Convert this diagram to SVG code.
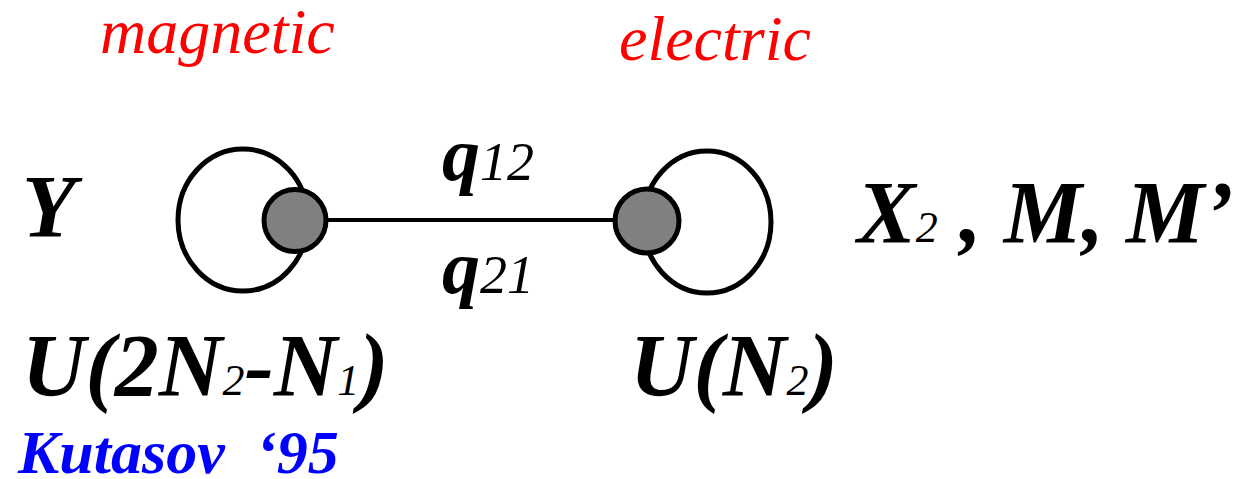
<svg xmlns="http://www.w3.org/2000/svg" width="1240" height="479" viewBox="0 0 1240 479">
<style>
svg text, svg text tspan{font-family:"Liberation Serif",Tinos,"Times New Roman",serif !important;font-style:italic !important;}
.loop{fill:none;stroke:#000;stroke-width:5;}
.node{fill:#808080;stroke:#000;stroke-width:5;}
.edge{stroke:#000;stroke-width:4;fill:none;}
</style>
<rect width="1240" height="479" fill="#fff"/>
<g id="connectors">
<line class="edge" x1="326" y1="220" x2="616" y2="220"/>
</g>
<g id="magnetic-node">
<ellipse class="loop" cx="243" cy="220" rx="65" ry="71"/>
<circle class="node" cx="295" cy="220.5" r="31"/>
</g>
<g id="electric-node">
<ellipse class="loop" cx="707" cy="222" rx="64" ry="71"/>
<circle class="node" cx="647" cy="221" r="32"/>
</g>
<g id="labels">
<text id="lbl-magnetic" x="100" y="53" font-family="Tinos" font-style="italic" font-size="64" fill="#ff0000">magnetic</text>
<text id="lbl-electric" x="619" y="60" font-family="Tinos" font-style="italic" font-size="64" fill="#ff0000">electric</text>
<text id="lbl-y" x="22" y="236" font-family="Tinos" font-style="italic" font-weight="bold" font-size="88">Y</text>
<text id="lbl-q12" x="442" y="180" font-family="Tinos" font-style="italic" font-weight="bold" font-size="76">q<tspan font-weight="normal" font-size="54">12</tspan></text>
<text id="lbl-q21" x="442" y="293" font-family="Tinos" font-style="italic" font-weight="bold" font-size="76">q<tspan font-weight="normal" font-size="54">21</tspan></text>
<text id="lbl-x2" x="857" y="242" font-family="Tinos" font-style="italic" font-weight="bold" font-size="88">X<tspan font-weight="normal" font-size="44">2</tspan> , M, M&#8217;</text>
<text id="lbl-u1" x="22" y="395" font-family="Tinos" font-style="italic" font-weight="bold" font-size="88">U(2N<tspan font-weight="normal" font-size="44">2</tspan>-N<tspan font-weight="normal" font-size="44">1</tspan>)</text>
<text id="lbl-u2" x="630" y="395" font-family="Tinos" font-style="italic" font-weight="bold" font-size="88">U(N<tspan font-weight="normal" font-size="44">2</tspan>)</text>
<text id="lbl-kutasov" x="18" y="473" font-family="Tinos" font-style="italic" font-weight="bold" font-size="62" fill="#0000ff">Kutasov <tspan x="256">&#8216;95</tspan></text>
</g>
</svg>
